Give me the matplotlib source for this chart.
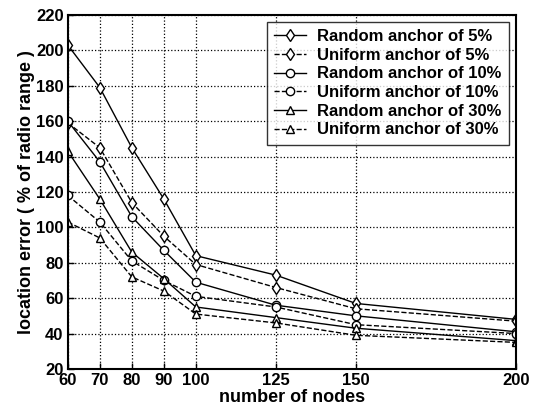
import matplotlib
matplotlib.use('Agg')
import matplotlib.pyplot as plt

plt.rcParams['font.family'] = ['Liberation Sans', 'DejaVu Sans']

# number of nodes
nodes = [60, 70, 80, 90, 100, 125, 150, 200]

random_5 = [203, 179, 145, 116, 84, 73, 57, 48]
uniform_5 = [159, 145, 114, 95, 79, 66, 54, 47]
random_10 = [160, 137, 106, 87, 69, 56, 50, 41]
uniform_10 = [118, 103, 81, 70, 61, 55, 45, 40]
random_30 = [143, 116, 86, 71, 55, 49, 43, 36]
uniform_30 = [103, 94, 72, 64, 51, 46, 39, 35]

series = [
    ('Random anchor of 5%', random_5, 'd', '-'),
    ('Uniform anchor of 5%', uniform_5, 'd', '--'),
    ('Random anchor of 10%', random_10, 'o', '-'),
    ('Uniform anchor of 10%', uniform_10, 'o', '--'),
    ('Random anchor of 30%', random_30, '^', '-'),
    ('Uniform anchor of 30%', uniform_30, '^', '--'),
]

fig = plt.figure(figsize=(5.38, 4.15), dpi=100)
ax = fig.add_axes([0.126, 0.111, 0.833, 0.853])

for label, vals, mk, ls in series:
    ax.plot(nodes, vals, color='black', linestyle=ls, linewidth=1.0,
            marker=mk, markersize=6, markerfacecolor='white',
            markeredgecolor='black', markeredgewidth=1.0, label=label)

ax.set_xlim(60, 200)
ax.set_ylim(20, 220)
ax.set_xticks(nodes)
ax.set_yticks(range(20, 221, 20))
ax.grid(True, color='black', linestyle=':', linewidth=0.9)
ax.tick_params(direction='in', length=4, labelsize=12, width=1, pad=3)
for t in ax.get_xticklabels() + ax.get_yticklabels():
    t.set_fontweight('bold')
for s in ax.spines.values():
    s.set_linewidth(1.5)

ax.set_xlabel('number of nodes', fontsize=13, fontweight='bold', labelpad=1)
ax.set_ylabel('location error ( % of radio range )', fontsize=13,
              fontweight='bold', labelpad=1)

leg = ax.legend(loc='upper right', fontsize=12, frameon=True, fancybox=False,
                edgecolor='black', borderaxespad=0.4, handlelength=1.9,
                labelspacing=0.22, borderpad=0.45, handletextpad=0.7)
leg.get_frame().set_linewidth(1.0)
for t in leg.get_texts():
    t.set_fontweight('bold')

fig.savefig('out.png', dpi=100)
